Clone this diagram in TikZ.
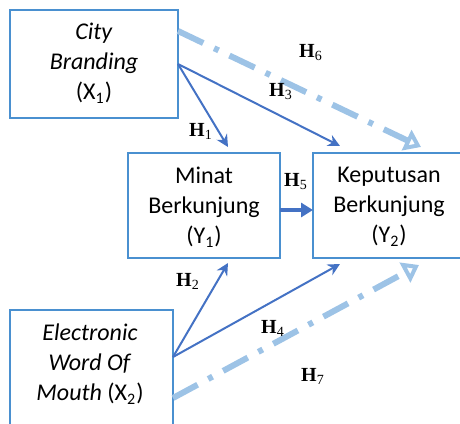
\documentclass[tikz,border=0pt]{standalone}
\usepackage{fontspec}
\setmainfont{Carlito}
\newfontfamily\hfont{Liberation Serif}
\usetikzlibrary{arrows.meta}
\definecolor{boxblue}{HTML}{4A90D0}
\definecolor{arrowblue}{HTML}{4472C4}
\definecolor{paleblue}{HTML}{9DC3E6}
\tikzset{
  varbox/.style={draw=boxblue, line width=0.9pt, fill=white, inner sep=0pt},
  vartext/.style={align=center, font=\fontsize{12}{15}\selectfont, inner sep=0pt},
  direct/.style={draw=arrowblue, line width=1pt, -{Stealth[length=6pt,width=6pt]}},
  mediate/.style={draw=arrowblue, line width=1.6pt, -{Triangle[length=6pt,width=7pt]}},
  indirect/.style={draw=paleblue, line width=3pt, line cap=butt,
    dash pattern=on 14pt off 6pt on 2.5pt off 6pt,
    -{Triangle[open, length=8pt, width=11pt, line width=2pt]}},
  hyp/.style={font=\hfont\fontsize{10}{12}\selectfont, inner sep=0pt}
}
\newcommand{\hyplabel}[1]{\textbf{H}\textsubscript{#1}}
\begin{document}
\begin{tikzpicture}[x=0.5pt, y=-0.5pt]
\useasboundingbox (0,0) rectangle (460,423);

% variable boxes
\node[varbox, minimum width=84pt, minimum height=54pt] (x1) at (94,64) {};
\node[vartext] (x1t) at (94,63) {\textit{City}\\\textit{Branding}\\(X\textsubscript{1})};

\node[varbox, minimum width=76pt, minimum height=52.5pt] (y1) at (204,205.5) {};
\node[vartext] (y1t) at (204,207) {Minat\\Berkunjung\\(Y\textsubscript{1})};

\node[varbox, minimum width=80pt, minimum height=52.5pt] (y2) at (393,205.5) {};
\node[vartext] (y2t) at (389,207) {Keputusan\\Berkunjung\\(Y\textsubscript{2})};

\node[varbox, minimum width=81.5pt, minimum height=65pt] (x2) at (91.5,375) {};
\node[vartext] (x2t) at (90,364) {\textit{Electronic}\\\textit{Word Of}\\\textit{Mouth} (X\textsubscript{2})};

% connector end points
\coordinate (x1a) at (178,31);
\coordinate (x1b) at (178,64);
\coordinate (y1top) at (228,147);
\coordinate (y2top) at (340,146);
\coordinate (y2topr) at (421,147);
\coordinate (y1bot) at (228,263);
\coordinate (y2bot) at (340,264);
\coordinate (y2botr) at (419,265);
\coordinate (x2a) at (173,357);
\coordinate (x2b) at (173,398);
\coordinate (y1r) at (280,210);
\coordinate (y2l) at (313,210);

% paths
\draw[indirect] (x1a) -- (y2topr);
\draw[indirect] (x2b) -- (y2botr);
\draw[direct] (x1b) -- (y1top);
\draw[direct] (x1b) -- (y2top);
\draw[direct] (x2a) -- (y1bot);
\draw[direct] (x2a) -- (y2bot);
\draw[mediate] (y1r) -- (y2l);

% hypothesis labels
\node[hyp] (h1) at (201,131) {\hyplabel{1}};
\node[hyp] (h2) at (188,281) {\hyplabel{2}};
\node[hyp] (h3) at (281,92) {\hyplabel{3}};
\node[hyp] (h4) at (273,328) {\hyplabel{4}};
\node[hyp] (h5) at (296,182) {\hyplabel{5}};
\node[hyp] (h6) at (311,53) {\hyplabel{6}};
\node[hyp] (h7) at (313,376) {\hyplabel{7}};
\end{tikzpicture}
\end{document}
